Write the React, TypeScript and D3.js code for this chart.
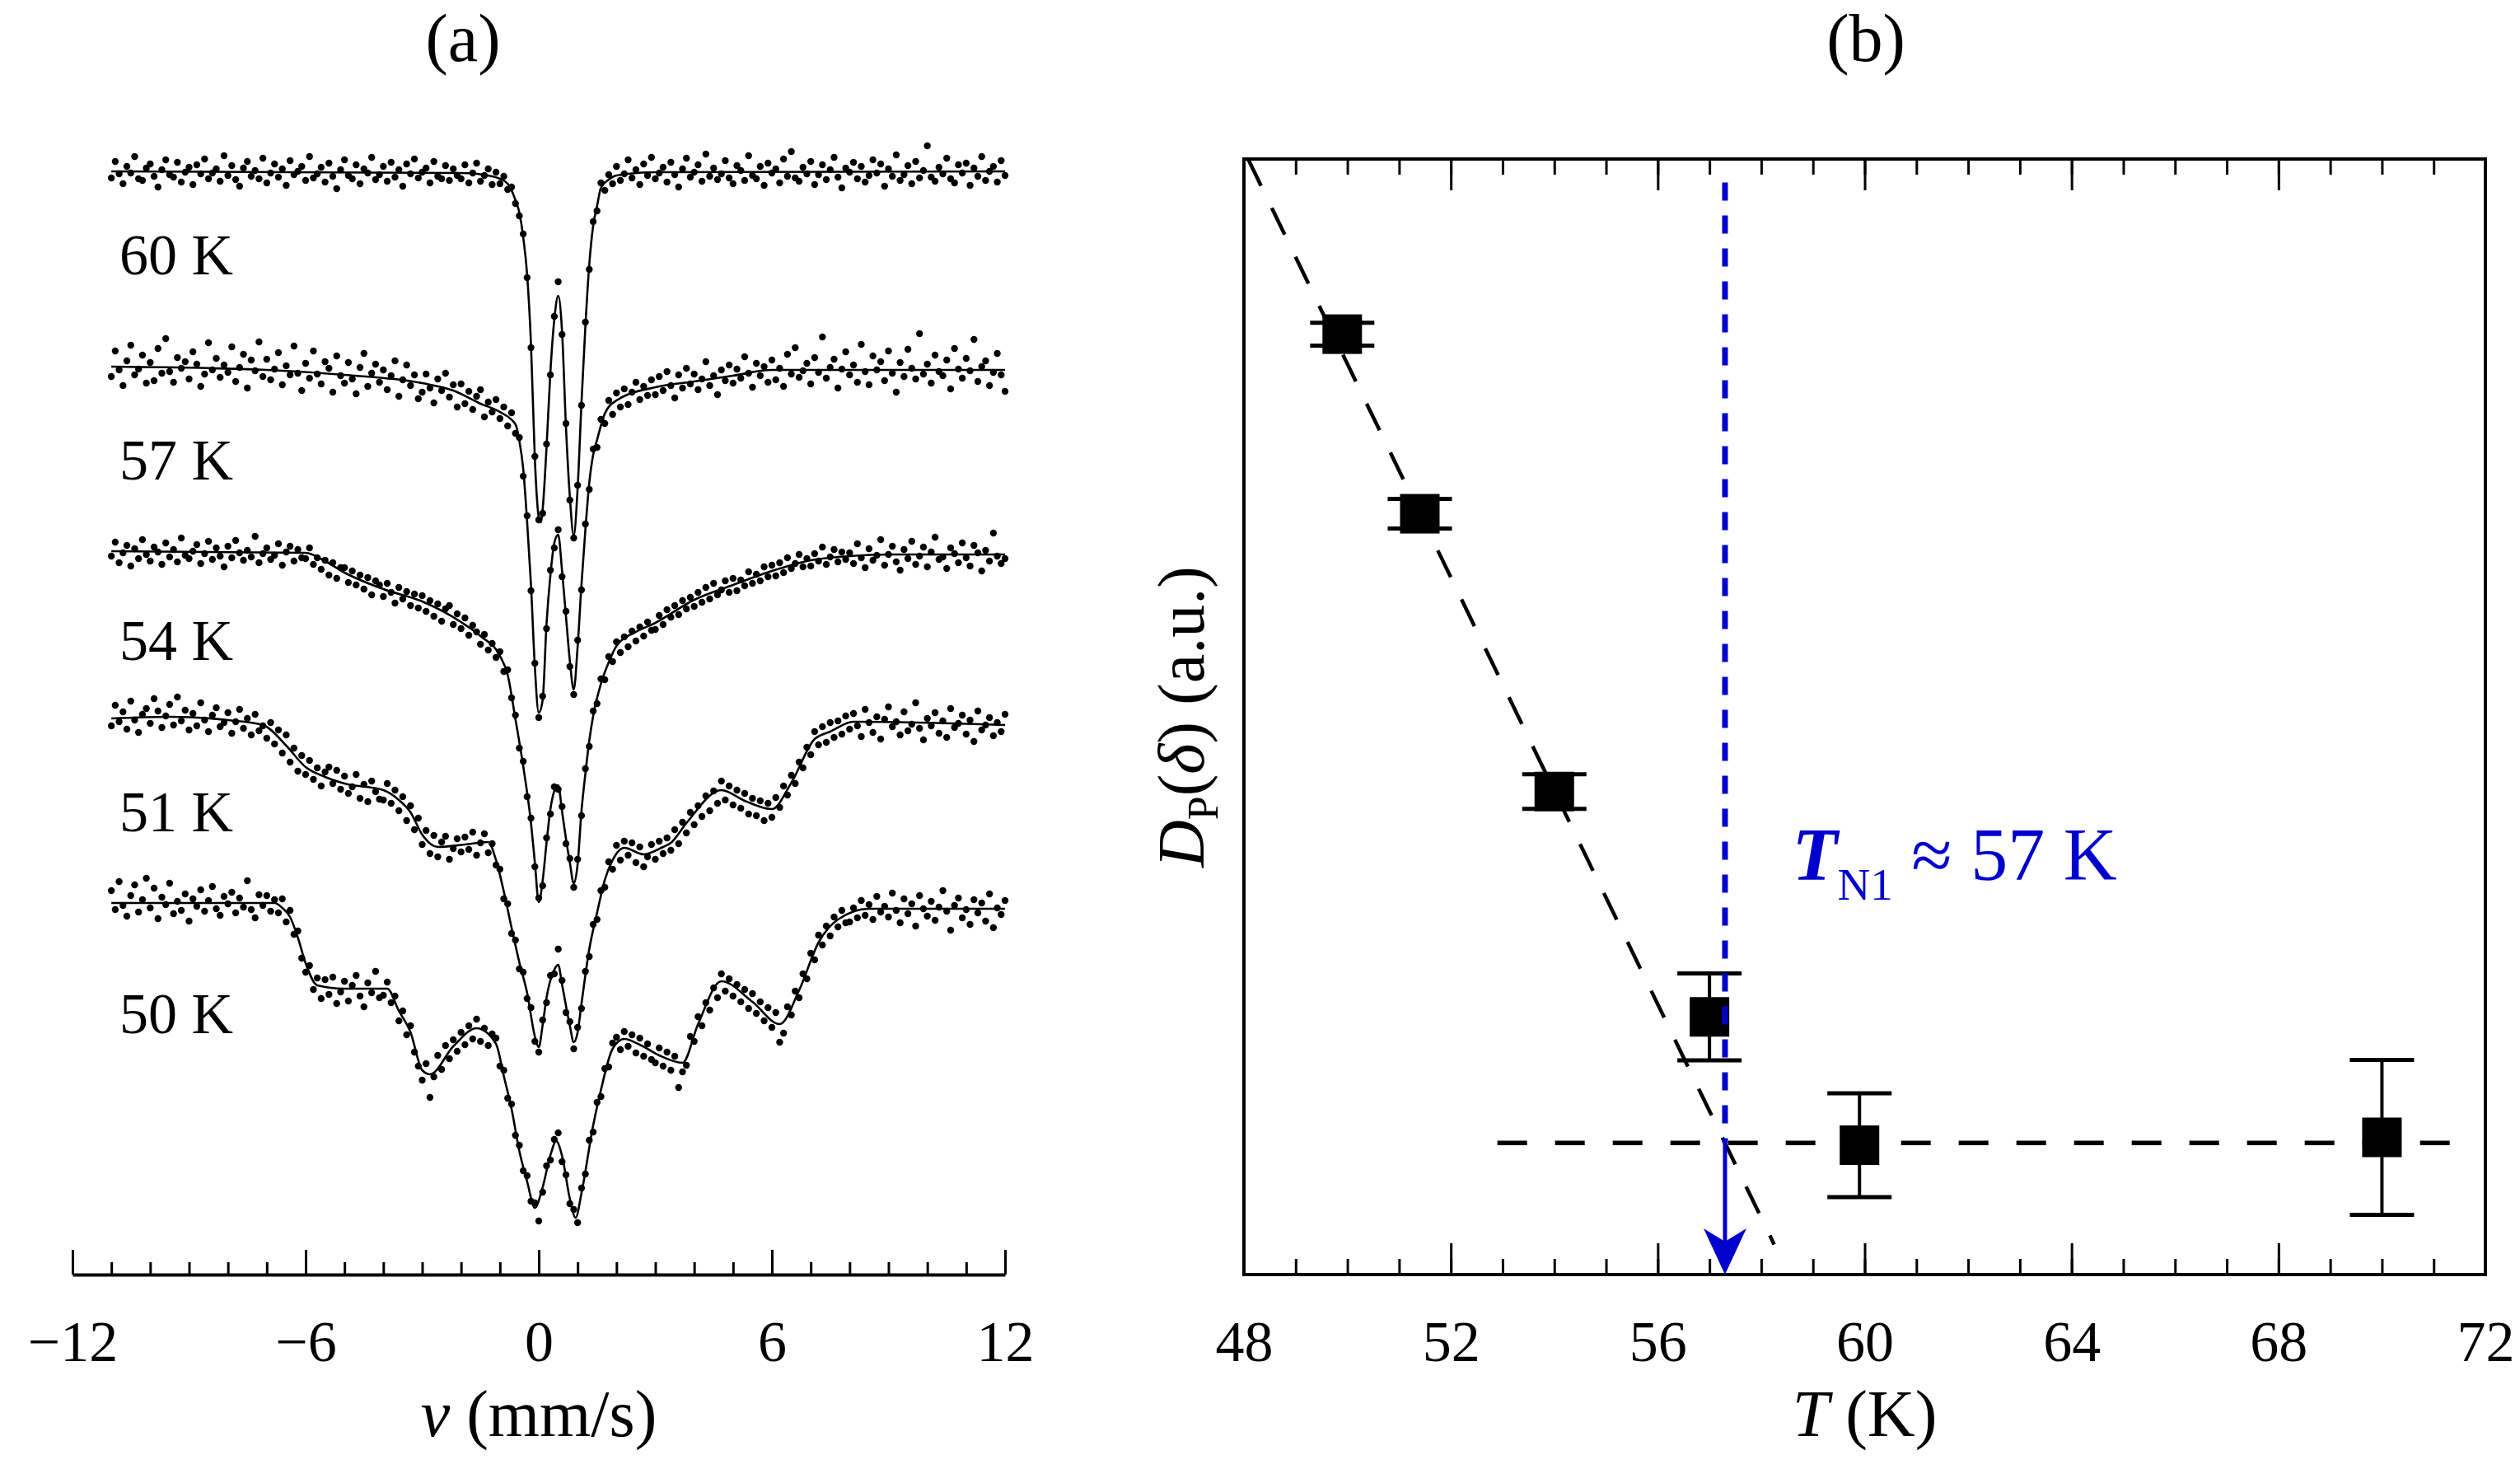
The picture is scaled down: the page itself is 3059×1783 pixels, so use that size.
import React, { useEffect, useRef } from "react";
import * as d3 from "d3";

// ---------- panel (a): spectra ----------
const spectrumLabels = ["60 K", "57 K", "54 K", "51 K", "50 K"];
// vertical stacking of the spectra (a.u.) and where each label sits below its baseline
const stackOffsets = [0, 23.7, 46.1, 66.4, 88.8];
const labelDepths = [12.5, 13.7, 13.2, 13.7, 15.8];
const channelStart = -11;
const channelStep = 0.1;
const velocityMajor = [-12, -6, 0, 6, 12];
const velocityMinor = d3.range(-12, 13, 1);

// fitted curves: [velocity, absorption depth]
const fit60 = [[-11,0],[-2,0.2],[-1.2,0.6],[-1,0.9],[-0.8,1.5],[-0.7,2.3],[-0.6,3.5],[-0.5,5],[-0.4,8],[-0.3,12.5],[-0.2,21],[-0.1,35],[0,42],[0.05,42.6],[0.1,41],[0.2,33.5],[0.3,24.3],[0.4,18],[0.5,15.1],[0.6,19.5],[0.7,31],[0.8,39.5],[0.9,44.2],[1,38.5],[1.1,28],[1.2,18.8],[1.3,11.3],[1.4,6.6],[1.5,4.2],[1.6,2.0],[1.8,1.0],[2,0.5],[3,0.1],[12,0]];
const fit57 = [[-11,0],[-7,0.4],[-5,1.0],[-3,2.0],[-2.2,2.9],[-1.5,4.5],[-1,5.5],[-0.6,7],[-0.5,9],[-0.4,12.4],[-0.3,18.8],[-0.2,26.5],[-0.1,36.5],[0,42],[0.1,40.5],[0.2,31.2],[0.3,25.3],[0.4,21.4],[0.5,20.4],[0.6,24.8],[0.7,30.3],[0.8,35.7],[0.9,39.2],[1,34],[1.1,26.4],[1.2,19.8],[1.3,14.1],[1.4,10.7],[1.5,8.9],[1.7,5.7],[2,4.1],[3,2.5],[4,1.8],[5,1.1],[6,0.4],[12,0.4]];
const fit54 = [[-11,0],[-6,0.2],[-5.5,1.2],[-5,2.6],[-4,4.6],[-3,6.1],[-2,8.6],[-1.5,10.3],[-1,12.7],[-0.8,15],[-0.6,20.4],[-0.4,26.1],[-0.2,33],[-0.1,37.8],[0,42.6],[0.1,40],[0.2,35.4],[0.3,31.3],[0.4,29.1],[0.5,28.4],[0.6,31.6],[0.7,34.9],[0.8,37.8],[0.9,40.3],[1,38],[1.1,31.5],[1.2,27],[1.3,23],[1.4,20],[1.6,16.1],[1.8,13.5],[2,11.5],[2.5,9.8],[3,8.7],[4,5.9],[5,4.1],[6,2.4],[7,1.1],[8,0.6],[9,0.4],[12,0.4]];
const fit51 = [[-11,0],[-9.5,-0.2],[-8,0.2],[-7.1,0.8],[-6.5,3.3],[-6,5.9],[-5.5,7.1],[-5,7.9],[-4,8.7],[-3.6,9.9],[-3.3,11.4],[-3,14.1],[-2.6,15.6],[-1.9,15.3],[-1.3,15],[-1.1,17.2],[-0.9,21],[-0.7,25.4],[-0.5,29.6],[-0.3,33.3],[-0.1,38.6],[0,39.9],[0.1,37.2],[0.2,33.9],[0.4,30.5],[0.5,29.9],[0.6,32.3],[0.8,37.3],[0.9,39.3],[1,38.1],[1.1,34.6],[1.3,28],[1.5,23.6],[1.7,19.6],[1.9,17.2],[2.2,15.7],[2.7,16.5],[3.2,15.6],[3.4,15.1],[3.8,12.7],[4.7,8.7],[5.3,10],[6,11],[6.5,7.8],[7.1,2.5],[7.5,1.6],[8.1,0.4],[12,0.8]];
const fit50 = [[-11,0],[-6.8,0],[-6.6,0.6],[-6.4,1.7],[-6.2,4.2],[-6,7.3],[-5.7,10],[-5,10.4],[-3.9,10.4],[-3.6,13.1],[-3.3,15.7],[-3,20.3],[-2.8,20.8],[-2.2,17.4],[-1.6,15.2],[-1.1,17.1],[-0.9,21],[-0.7,25],[-0.5,30.1],[-0.3,33.8],[-0.1,37],[0.1,34.5],[0.3,30.6],[0.45,28.9],[0.6,30.7],[0.8,35.9],[0.95,38.2],[1.1,35.2],[1.4,27],[1.6,22.7],[1.9,17.7],[2.2,16.5],[2.6,17.2],[3.1,18.5],[3.7,19.4],[4.1,14.7],[4.7,9.5],[5.5,12],[6.2,14.7],[6.7,10.6],[7.2,4.8],[7.7,2],[8.5,0.7],[12,0.7]];

// measured points, one per velocity channel (-11 ... 12 mm/s, step 0.1)
const counts60 = [
0.8,-1.2,0.3,1.5,-0.6,0.2,-1.8,0.9,1.1,-0.4,
-0.9,0.6,1.9,-0.2,-1.4,0.4,0.7,-1.1,1.3,0.1,
-0.5,1.6,-0.8,0.3,-1.5,0.9,0.2,-0.3,1.2,-1.9,
0.5,-0.7,1.0,1.8,-0.4,-1.2,0.6,-0.1,0.9,-1.6,
1.4,0.2,-0.9,0.7,-0.3,1.7,-1.3,0.4,0.0,-0.6,
1.1,-1.8,0.8,0.3,-0.5,1.3,-1.0,0.6,2.1,-0.2,
-1.4,0.5,0.9,-0.8,1.5,-0.3,0.2,-1.7,1.0,0.4,
-0.6,1.2,-1.1,0.7,-0.2,1.8,-0.9,0.3,-1.5,0.8,
0.1,-0.4,1.4,-1.2,0.6,0.9,-0.7,1.1,-0.3,0.5,
0.9,-0.8,1.4,0.2,-1.0,1.2,0.5,-0.3,1.6,0.1,
1.5,0.6,2.2,1.9,3.9,5.4,7.6,12.9,21.4,34.6,
42.3,41.5,33.1,24.7,17.6,13.4,19.8,30.6,39.9,44.5,
38.1,28.4,18.3,11.9,6.1,4.8,1.4,2.3,0.4,1.5,
-0.6,1.1,0.3,-1.4,0.8,-0.2,1.6,-0.9,0.5,-1.7,
0.9,0.2,-0.5,1.3,-1.1,0.4,1.9,-0.3,-1.6,0.7,
0.1,-0.8,1.2,-2.1,0.6,-0.4,1.0,0.3,-1.3,0.8,
1.5,-0.7,-0.1,1.1,-1.9,0.5,0.9,-0.6,1.7,-1.0,
0.2,-0.3,1.4,-1.5,0.6,-2.4,0.8,1.2,-0.5,0.3,
-1.2,1.6,0.4,-0.8,1.0,-0.2,-1.7,0.7,2.0,-0.4,
0.1,-1.1,0.9,-0.6,1.3,0.5,-1.4,0.2,-0.9,1.8,
-0.3,0.6,-2.0,1.1,0.4,-0.7,1.5,-1.2,0.8,-0.1,
-3.1,0.7,1.2,-0.5,0.3,-1.6,0.9,1.4,-0.8,0.2,
-1.0,1.7,-0.4,0.6,-1.8,1.1,0.0,-0.6,1.3,-1.3,
0.5];
const counts57 = [
1.2,-1.9,0.4,2.3,-0.7,-2.6,1.0,0.3,-1.4,2.0,
-0.5,1.7,-2.2,0.8,-3.4,0.6,1.9,-1.1,0.2,-0.6,
1.5,-1.8,-0.3,2.4,0.9,-2.9,0.4,-1.0,1.3,-0.2,
0.7,-2.4,1.8,0.1,-1.5,2.6,-0.8,0.5,-3.0,1.2,
-0.9,1.6,0.3,-1.7,2.2,-0.1,1.0,-2.5,0.8,2.9,
-0.4,1.4,-1.9,0.9,2.1,-0.6,0.2,3.1,-1.3,1.1,
2.0,-0.5,1.5,3.3,0.1,-1.6,2.4,0.8,-0.3,1.9,
0.4,2.8,1.1,-0.7,3.6,1.6,-0.2,2.3,1.0,3.9,
3.1,0.9,2.6,4.4,1.5,2.9,0.8,3.7,2.2,4.9,
2.1,4.5,3.0,5.2,3.6,2.8,6.1,4.3,5.5,4.0,
6.3,4.9,7.2,5.6,8.1,8.6,13.3,18.1,27.2,36.0,
42.6,40.0,31.8,24.7,22.0,19.8,25.5,29.7,36.4,39.8,
33.2,27.1,19.1,14.9,10.0,9.8,6.4,6.9,4.1,5.8,
3.2,4.9,2.7,4.6,3.1,1.9,4.0,2.4,3.5,1.6,
3.4,1.2,2.9,0.6,2.3,3.8,1.0,2.6,0.2,2.1,
0.9,2.8,1.5,-0.6,2.3,1.1,3.4,0.4,1.7,-0.2,
2.0,0.3,1.4,-1.2,0.8,2.5,-0.4,1.1,0.0,1.9,
-0.8,1.6,0.2,2.4,-1.5,0.9,-2.3,1.3,0.5,-0.4,
2.1,-1.1,0.7,-3.6,1.4,0.1,-0.9,2.6,0.3,-1.8,
1.0,-0.2,1.9,-2.7,0.6,2.2,-1.3,0.4,-0.6,1.7,
-1.9,0.8,3.1,-0.5,1.2,-2.1,0.2,1.5,-4.0,0.9,
-0.3,2.0,-1.4,0.6,1.1,-0.8,2.7,-2.2,0.3,1.4,
-1.0,0.5,-3.3,1.8,0.0,-0.7,2.3,0.7,-1.6,1.0,
3.0];
const counts54 = [
0.6,-1.1,1.4,0.2,-0.7,1.8,-0.3,0.9,-1.4,0.4,
1.2,-0.5,0.1,1.6,-1.0,0.7,-0.2,1.3,-1.6,0.5,
0.9,0.0,-0.8,1.5,0.3,-1.2,1.0,-0.4,0.6,1.9,
-0.6,0.8,-1.3,0.2,1.1,-0.1,0.7,-1.8,1.4,0.3,
-0.4,1.0,0.5,-0.9,1.7,0.1,-0.6,1.2,-0.2,0.8,
0.9,-0.4,1.6,0.8,2.2,1.1,2.9,1.4,3.3,2.0,
2.0,3.8,2.4,4.1,2.9,4.6,3.2,5.3,3.6,4.1,
5.5,3.9,5.0,6.3,4.4,5.8,4.9,6.6,5.2,6.9,
5.4,7.3,6.0,7.9,6.4,8.5,7.0,6.6,8.9,7.6,
9.4,8.1,10.2,9.0,9.8,11.3,10.1,12.0,11.2,12.9,
12.2,14.6,14.4,17.8,19.9,23.9,25.5,29.8,32.4,38.3,
42.1,40.6,34.8,31.9,28.6,28.9,31.0,35.5,37.3,40.8,
37.4,32.1,26.4,23.7,19.4,18.5,15.5,15.6,12.8,13.4,
11.0,12.3,10.4,11.6,9.7,10.9,9.2,10.3,8.6,9.6,
9.5,7.8,8.9,7.1,8.0,6.6,7.7,6.0,7.0,5.6,
6.7,5.0,6.2,4.4,5.8,3.9,5.3,4.7,3.6,5.0,
3.3,4.8,3.5,4.2,2.5,3.9,2.8,3.6,1.9,3.1,
1.7,3.0,1.4,2.6,0.8,2.1,1.5,0.4,1.9,0.9,
1.8,0.3,1.2,-0.5,1.6,0.7,-0.2,1.3,0.1,1.0,
0.2,1.5,-0.9,0.8,2.0,-0.3,1.1,0.5,-1.4,1.7,
0.4,-0.6,1.3,2.3,-0.2,0.9,-1.2,1.6,0.6,-0.5,
1.9,0.1,-1.7,1.0,0.7,2.1,-0.4,0.3,1.4,-1.0,
0.8,1.8,-0.7,0.2,2.4,-0.1,1.2,-2.2,0.6,1.5,
0.9];
const counts51 = [
0.9,-1.6,0.4,-0.8,1.3,-2.1,0.2,1.7,-0.5,-1.2,
0.6,-2.4,-0.9,1.1,-0.3,-1.7,0.8,-2.6,0.3,-1.0,
1.4,-0.6,0.9,-1.9,0.2,1.6,-0.4,-1.3,1.0,0.5,
-0.7,1.8,0.4,-1.1,1.2,0.0,2.0,-0.5,1.5,0.9,
2.4,0.5,3.1,1.4,4.2,2.0,5.3,3.6,6.4,4.5,
6.8,5.1,7.4,6.0,8.2,6.5,5.9,7.9,6.3,8.6,
7.0,9.1,8.3,6.8,9.7,8.0,10.1,7.6,8.9,9.8,
9.9,7.9,10.3,8.7,11.2,9.5,12.4,10.6,13.5,12.1,
15.3,13.6,16.4,14.2,16.8,15.0,14.3,17.1,15.8,14.6,
16.2,14.4,15.9,13.8,16.6,15.1,14.0,16.3,15.2,17.8,
18.3,21.9,22.5,26.1,26.9,30.4,30.8,34.0,35.1,39.2,
40.5,36.6,34.5,31.2,31.0,28.0,31.8,35.7,36.8,40.1,
37.5,35.2,30.7,28.9,25.0,24.4,20.9,20.5,17.4,18.3,
15.4,17.2,14.9,16.6,15.1,17.5,15.6,18.0,16.8,15.3,
17.1,14.9,16.4,14.5,16.0,13.5,15.2,12.6,13.9,11.4,
12.9,10.6,11.9,9.4,11.2,8.8,10.3,7.6,9.9,8.2,
10.5,8.7,10.9,9.1,11.6,9.7,11.8,10.0,12.4,10.3,
12.0,9.6,10.8,8.2,9.3,6.9,7.9,5.3,6.0,3.5,
4.4,1.6,3.2,1.0,2.9,0.5,2.3,0.3,1.9,-0.3,
1.3,-0.6,0.9,2.2,-1.1,0.5,1.7,-0.2,2.5,0.1,
-1.4,1.0,0.4,2.0,-0.8,1.5,0.7,-1.9,1.2,2.6,
0.0,0.9,-0.7,1.8,0.3,2.3,-1.2,1.1,0.6,-0.4,
1.9,0.2,2.8,-0.9,1.4,0.8,-0.1,2.1,0.5,1.6,
-0.5];
const counts50 = [
-1.5,0.8,-2.6,0.3,1.6,-0.9,-2.2,1.1,-0.4,-3.0,
0.6,-1.8,1.9,-0.7,0.2,-2.4,1.3,-0.2,0.9,-1.1,
2.2,-0.5,0.4,-1.6,1.0,-0.3,-2.0,0.7,1.5,-0.8,
0.1,-1.3,1.2,-0.6,0.5,-2.7,0.8,1.8,-1.0,0.3,
-0.9,1.0,-0.4,1.2,-0.5,2.3,0.9,3.8,3.4,6.7,
8.4,7.6,10.5,9.1,11.6,9.3,11.1,9.0,12.2,10.8,
9.5,11.9,10.0,8.8,11.3,12.6,9.7,10.9,8.3,11.5,
11.2,9.6,12.1,11.3,14.3,13.1,16.0,14.9,18.1,19.8,
21.5,19.5,23.6,21.1,18.5,20.2,17.3,18.9,16.6,18.0,
15.7,17.2,14.9,16.5,14.1,16.8,15.2,17.3,15.9,16.4,
19.8,20.3,23.7,24.4,28.2,29.4,32.5,33.1,36.2,36.4,
38.6,35.1,31.9,31.2,28.7,27.9,31.4,33.0,36.5,37.2,
38.8,34.6,32.9,28.8,27.8,24.2,23.5,20.1,19.9,17.0,
16.3,17.8,15.6,17.4,16.0,18.2,16.4,18.6,17.1,19.0,
19.4,17.6,19.8,18.1,20.3,18.6,22.4,20.5,19.7,16.2,
16.8,13.8,14.9,12.1,13.0,10.3,11.5,8.6,10.7,9.2,
11.3,9.9,12.0,10.5,12.8,11.0,13.4,12.0,14.3,12.7,
15.1,13.3,16.9,15.8,12.6,13.6,10.7,11.5,8.6,9.2,
6.1,6.9,3.9,5.1,2.8,4.0,1.7,2.9,0.9,2.4,
2.3,0.6,1.8,-0.3,1.5,0.2,2.0,-0.8,1.1,0.4,
1.7,-1.2,0.9,2.4,-0.5,1.3,0.1,2.8,-0.9,0.7,
1.6,-0.2,2.1,0.5,-1.5,1.0,3.3,0.3,-0.6,1.8,
0.8,2.6,-0.4,1.2,0.0,2.2,-1.1,3.0,0.6,1.4,
-0.3];

// ---------- panel (b): D_P vs T ----------
const temperatures = [49.9, 51.4, 54.0, 57.0, 59.9, 70.0];
const dpValues = [0.843, 0.682, 0.433, 0.231, 0.116, 0.123];
const dpErrors = [0.0103, 0.0133, 0.0155, 0.039, 0.0465, 0.0694];
const tempMajor = [48, 52, 56, 60, 64, 68, 72];
const tempMinor = d3.range(48, 73, 1);
const lowTrend = [[48.08, 1.0], [58.25, 0.027]];
const highTrend = [[52.9, 0.118], [71.45, 0.118]];
const tN1 = 57.3;
const tN1Line = [0.979, 0.118, 0]; // dotted top, start of arrow, arrow tip

const W = 3059;
const H = 1783;
const FONT = "'Liberation Serif', 'Times New Roman', serif";
const BLUE = "#0000cd";

export default function App() {
	const svgRef = useRef(null);

	useEffect(() => {
		const svg = d3.select(svgRef.current);
		svg.selectAll("*").remove();
		svg.append("rect").attr("width", W).attr("height", H).attr("fill", "#fff");

		// ===== panel (a) =====
		const xA = d3.scaleLinear().domain([-12, 12]).range([88, 1220]);
		const yA = d3.scaleLinear().domain([0, 100]).range([208, 1208]);
		const axisYA = 1547;

		const fits = [fit60, fit57, fit54, fit51, fit50];
		const counts = [counts60, counts57, counts54, counts51, counts50];
		const fitLine = d3
			.line()
			.x((d) => xA(d[0]))
			.y((d) => yA(d[1]))
			.curve(d3.curveMonotoneX);

		const ga = svg.append("g");
		counts.forEach((arr, k) => {
			ga.append("g")
				.selectAll("circle")
				.data(arr)
				.join("circle")
				.attr("cx", (d, i) => xA(channelStart + i * channelStep))
				.attr("cy", (d) => yA(stackOffsets[k] + d))
				.attr("r", 4.2)
				.attr("fill", "#000");

			ga.append("path")
				.datum(fits[k].map((p) => [p[0], p[1] + stackOffsets[k]]))
				.attr("d", fitLine)
				.attr("fill", "none")
				.attr("stroke", "#000")
				.attr("stroke-width", 2.6);

			ga.append("text")
				.attr("x", 145)
				.attr("y", yA(stackOffsets[k] + labelDepths[k]))
				.attr("font-family", FONT)
				.attr("font-size", 70)
				.text(spectrumLabels[k]);
		});

		// bottom axis, ticks pointing up
		const minorA = ga.append("g")
			.attr("transform", `translate(0,${axisYA})`)
			.call(d3.axisBottom(xA).tickValues(velocityMinor).tickSize(-15).tickSizeOuter(0).tickFormat(() => ""));
		minorA.select(".domain").attr("stroke-width", 4);
		minorA.selectAll(".tick line").attr("stroke-width", 3);

		const majorA = ga.append("g")
			.attr("transform", `translate(0,${axisYA})`)
			.call(d3.axisBottom(xA).tickValues(velocityMajor).tickSize(-30).tickSizeOuter(0));
		majorA.select(".domain").remove();
		majorA.selectAll(".tick line").attr("stroke-width", 3);
		majorA.selectAll(".tick text")
			.attr("y", 105)
			.attr("dy", null)
			.attr("font-family", FONT)
			.attr("font-size", 70)
			.attr("fill", "#000");

		const xTitle = ga.append("text")
			.attr("x", xA(0))
			.attr("y", 1743)
			.attr("text-anchor", "middle")
			.attr("font-family", FONT)
			.attr("font-size", 80);
		xTitle.append("tspan").attr("font-style", "italic").text("v");
		xTitle.append("tspan").text(" (mm/s)");

		ga.append("text")
			.attr("x", 562)
			.attr("y", 74)
			.attr("text-anchor", "middle")
			.attr("font-family", FONT)
			.attr("font-size", 82)
			.text("(a)");

		// ===== panel (b) =====
		const xB = d3.scaleLinear().domain([48, 72]).range([1510, 3017]);
		const yB = d3.scaleLinear().domain([0, 1]).range([1547, 193]);
		const gb = svg.append("g");

		const lineB = d3.line().x((d) => xB(d[0])).y((d) => yB(d[1]));

		gb.append("path")
			.datum(lowTrend)
			.attr("d", lineB)
			.attr("stroke", "#000")
			.attr("stroke-width", 4.5)
			.attr("stroke-dasharray", "36,30")
			.attr("fill", "none");
		gb.append("path")
			.datum(highTrend)
			.attr("d", lineB)
			.attr("stroke", "#000")
			.attr("stroke-width", 5.5)
			.attr("stroke-dasharray", "36,34")
			.attr("fill", "none");

		// error bars and squares
		const capHalf = 39;
		const sq = 48;
		temperatures.forEach((t, i) => {
			const cx = xB(t);
			const yTop = yB(dpValues[i] + dpErrors[i]);
			const yBot = yB(dpValues[i] - dpErrors[i]);
			gb.append("line").attr("x1", cx).attr("x2", cx).attr("y1", yTop).attr("y2", yBot)
				.attr("stroke", "#000").attr("stroke-width", 4);
			[yTop, yBot].forEach((yy) => {
				gb.append("line").attr("x1", cx - capHalf).attr("x2", cx + capHalf).attr("y1", yy).attr("y2", yy)
					.attr("stroke", "#000").attr("stroke-width", 5);
			});
			gb.append("rect")
				.attr("x", cx - sq / 2)
				.attr("y", yB(dpValues[i]) - sq / 2)
				.attr("width", sq)
				.attr("height", sq)
				.attr("fill", "#000");
		});

		// T_N1 marker
		gb.append("line")
			.attr("x1", xB(tN1)).attr("x2", xB(tN1))
			.attr("y1", yB(tN1Line[0])).attr("y2", yB(tN1Line[1]))
			.attr("stroke", BLUE)
			.attr("stroke-width", 7)
			.attr("stroke-dasharray", "22,18");
		const tipY = yB(tN1Line[2]);
		gb.append("line")
			.attr("x1", xB(tN1)).attr("x2", xB(tN1))
			.attr("y1", yB(tN1Line[1])).attr("y2", tipY - 40)
			.attr("stroke", BLUE)
			.attr("stroke-width", 5);
		const ax = xB(tN1);
		gb.append("path")
			.attr("d", `M${ax},${tipY} L${ax - 26},${tipY - 56} L${ax},${tipY - 40} L${ax + 26},${tipY - 56} Z`)
			.attr("fill", BLUE);

		const tLabel = gb.append("text")
			.attr("x", xB(58.6))
			.attr("y", yB(0.354))
			.attr("font-family", FONT)
			.attr("font-size", 90)
			.attr("fill", BLUE);
		tLabel.append("tspan").attr("font-style", "italic").attr("font-weight", "bold").text("T");
		tLabel.append("tspan").attr("font-size", 55).attr("dy", 24).text("N1");
		tLabel.append("tspan").attr("dy", -24).text(" \u2248 57 K");

		// frame with inward ticks top and bottom
		gb.append("rect")
			.attr("x", xB(48)).attr("y", yB(1))
			.attr("width", xB(72) - xB(48)).attr("height", yB(0) - yB(1))
			.attr("fill", "none").attr("stroke", "#000").attr("stroke-width", 4);

		const addTicks = (axisFn, yPos, values, size, labels) => {
			const g = gb.append("g")
				.attr("transform", `translate(0,${yPos})`)
				.call(axisFn(xB).tickValues(values).tickSize(-size).tickSizeOuter(0).tickFormat(labels ? d3.format("d") : () => ""));
			g.select(".domain").remove();
			g.selectAll(".tick line").attr("stroke-width", 3);
			return g;
		};
		addTicks(d3.axisBottom, yB(0), tempMinor, 19, false);
		addTicks(d3.axisTop, yB(1), tempMinor, 19, false);
		addTicks(d3.axisTop, yB(1), tempMajor, 38, false);
		const majorB = addTicks(d3.axisBottom, yB(0), tempMajor, 38, true);
		majorB.selectAll(".tick text")
			.attr("y", 105)
			.attr("dy", null)
			.attr("font-family", FONT)
			.attr("font-size", 70)
			.attr("fill", "#000");

		const tTitle = gb.append("text")
			.attr("x", xB(60))
			.attr("y", 1743)
			.attr("text-anchor", "middle")
			.attr("font-family", FONT)
			.attr("font-size", 80);
		tTitle.append("tspan").attr("font-style", "italic").text("T");
		tTitle.append("tspan").text(" (K)");

		const yTitle = gb.append("text")
			.attr("transform", `translate(1461,${yB(0.5)}) rotate(-90)`)
			.attr("text-anchor", "middle")
			.attr("font-family", FONT)
			.attr("font-size", 80);
		yTitle.append("tspan").attr("font-style", "italic").text("D");
		yTitle.append("tspan").attr("font-size", 52).attr("dy", 17).text("P");
		yTitle.append("tspan").attr("dy", -17).text("(");
		yTitle.append("tspan").attr("font-style", "italic").text("\u03b4");
		yTitle.append("tspan").text(") (a.u.)");

		gb.append("text")
			.attr("x", 2265)
			.attr("y", 74)
			.attr("text-anchor", "middle")
			.attr("font-family", FONT)
			.attr("font-size", 82)
			.text("(b)");

		return () => {
			d3.select(svgRef.current).selectAll("*").remove();
		};
	}, []);

	return (
		<svg
			ref={svgRef}
			width={W}
			height={H}
			style={{ position: "absolute", left: 0, top: 0, display: "block" }}
		></svg>
	);
}
